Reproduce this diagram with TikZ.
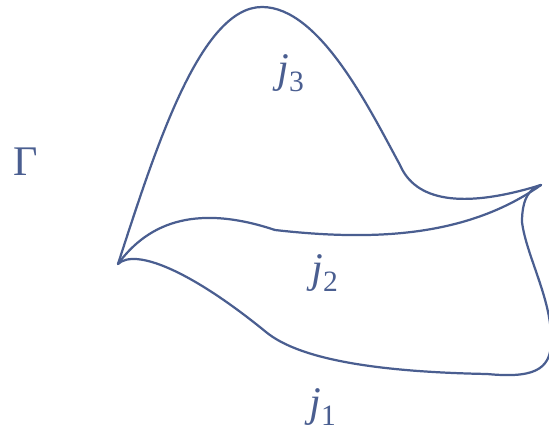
\documentclass[tikz,border=0pt]{standalone}
\usepackage{fontspec}
\setmainfont{Liberation Serif}
\usetikzlibrary{calc, positioning}
\definecolor{curvablu}{HTML}{4A5E90}
\tikzset{
  % contorno delle regioni
  bordo/.style={draw=curvablu, line width=1.9pt, line join=round, line cap=round},
  % etichette delle regioni
  etich/.style={text=curvablu, inner sep=0pt, font=\fontsize{36}{40}\selectfont},
}
\begin{document}
\begin{tikzpicture}[x=0.03cm, y=-0.03cm]
  \useasboundingbox (0,0) rectangle (549,432);
  \coordinate (a) at (118,264);
  \coordinate (b) at (541,185);
  \coordinate (cima) at (262,7);
  \coordinate (gola) at (400,165);
  \coordinate (nodo2) at (275,230);
  \coordinate (nodo1) at (266,332);
  \coordinate (fondo) at (487,374);
  \draw[bordo] (a) .. controls (155,150) and (200,7) .. (cima)
    .. controls (320,7) and (370,110) .. (gola)
    .. controls (415,200) and (460,210) .. (b);
  \draw[bordo] (a) .. controls (150,220) and (200,205) .. (nodo2)
    .. controls (380,242) and (470,235) .. (b);
  \draw[bordo] (a) .. controls (135,248) and (190,270) .. (nodo1)
    .. controls (300,360) and (380,372) .. (fondo)
    .. controls (530,378) and (552,372) .. (551,340)
    .. controls (552,300) and (526,255) .. (522,222)
    .. controls (522,198) and (530,188) .. (b);
  \node[etich] (g) at (26,162) {Γ};
  \node[etich] (j3) at (291,73) {\textit{j}\textsubscript{3}};
  \node[etich] (j2) at (325,273) {\textit{j}\textsubscript{2}};
  \node[etich] (j1) at (323,407) {\textit{j}\textsubscript{1}};
\end{tikzpicture}
\end{document}
